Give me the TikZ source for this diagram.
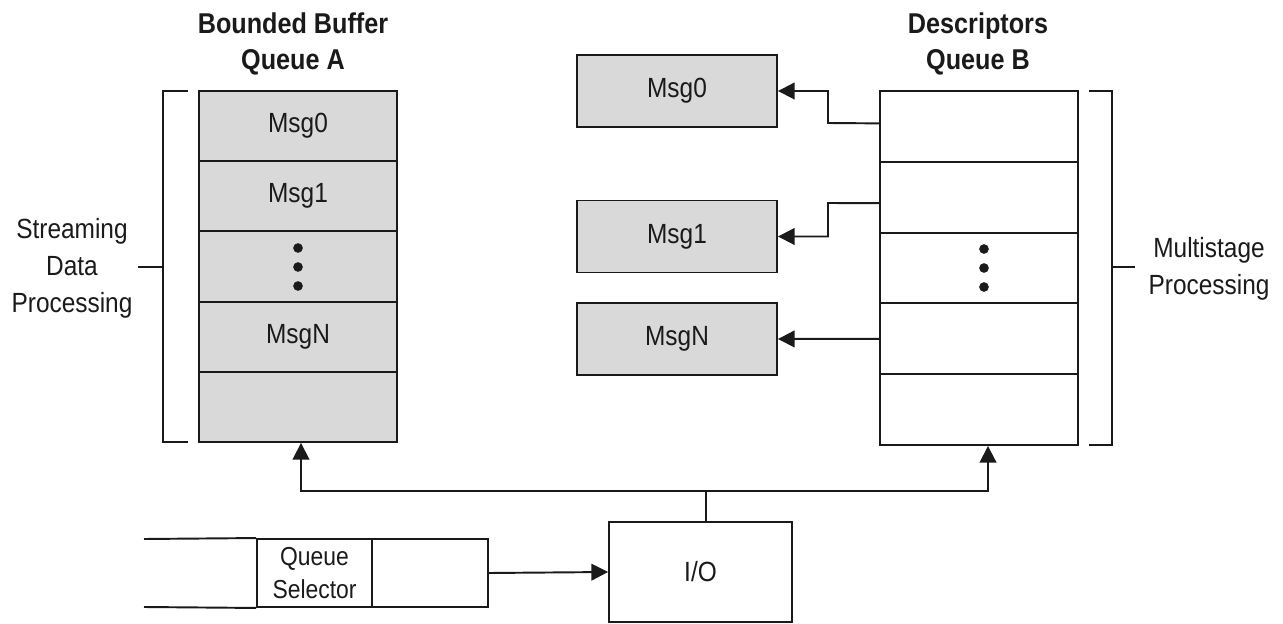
\documentclass[tikz,border=0pt]{standalone}
\usepackage{fontspec}
\setmainfont{Liberation Sans}[FakeStretch=0.88]
\usetikzlibrary{arrows.meta,calc}
\definecolor{cellgray}{HTML}{D9D9D9}
\definecolor{ink}{HTML}{1A1A1A}
\begin{document}
\begin{tikzpicture}[x=0.02cm,y=-0.02cm,
  line width=1.1pt, draw=ink, text=ink,
  every node/.style={font=\fontsize{15.8}{21}\selectfont, inner sep=0pt},
  cellA/.style={draw, fill=cellgray, minimum width=3.96cm, minimum height=1.404cm},
  cellB/.style={draw, fill=white, minimum width=3.96cm, minimum height=1.416cm},
  msgbox/.style={draw, fill=cellgray, minimum width=4cm, minimum height=1.44cm},
  plainbox/.style={draw, fill=white},
  title/.style={align=center, font=\fontsize{16.3}{20}\selectfont\bfseries},
  label/.style={align=center},
  arr/.style={-{Triangle[length=9.5pt,width=9.5pt]}},
  dotmark/.style={fill=ink, draw=none, circle, minimum size=5.5pt}
]
\useasboundingbox (0,0) rectangle (1283,624);

% Queue A
\node[cellA] (A0) at (298,126.1) {Msg0};
\node[cellA] (A1) at (298,196.3) {Msg1};
\node[cellA] (A2) at (298,266.5) {};
\node[cellA] (A3) at (298,336.7) {MsgN};
\node[cellA] (A4) at (298,406.9) {};
\node[dotmark] (ad1) at (298,248) {};
\node[dotmark] (ad2) at (298,267) {};
\node[dotmark] (ad3) at (298,286) {};

\node[title] (tA) at (293,44) {Bounded Buffer\\Queue A};

% left bracket
\draw (188,91) -- (163,91) -- (163,442) -- (188,442);
\draw (138,267) -- (163,267);
\node[label] (sdp) at (72,268) {Streaming\\Data\\Processing};

% Queue B
\node[cellB] (B0) at (979,126.4) {};
\node[cellB] (B1) at (979,197.2) {};
\node[cellB] (B2) at (979,268) {};
\node[cellB] (B3) at (979,338.8) {};
\node[cellB] (B4) at (979,409.6) {};
\node[dotmark] (bd1) at (984,249) {};
\node[dotmark] (bd2) at (984,268) {};
\node[dotmark] (bd3) at (984,287) {};

\node[title] (tB) at (978,44) {Descriptors\\Queue B};

% right bracket
\draw (1089,91) -- (1112,91) -- (1112,445) -- (1089,445);
\draw (1112,267) -- (1135,267);
\node[label] (mp) at (1209,269) {Multistage\\Processing};

% Message boxes
\node[msgbox] (M0) at (677,91) {Msg0};
\node[msgbox] (M1) at (677,236.5) {Msg1};
\node[msgbox] (MN) at (677,339) {MsgN};

\draw[arr] ($(B0.west)+(0,-3)$) -- (828,123) |- (M0.east);
\draw[arr] ($(B1.west)+(0,6)$) -- (828,203) |- (M1.east);
\draw[arr] (B3.west) -- (MN.east);

% I/O and selector
\node[plainbox, minimum width=3.66cm, minimum height=2cm] (IO) at (700.5,572) {I/O};
\node[plainbox, minimum width=2.3cm, minimum height=1.36cm, align=center, font=\fontsize{14.8}{19}\selectfont] (QS) at (314.5,573) {Queue\\Selector};
\node[plainbox, minimum width=2.32cm, minimum height=1.36cm] (QR) at (430,573) {};
\draw (QS.north west) -- (144,539);
\draw (QS.south west) -- (144,607);
\draw[arr] (QR.east) -- (IO.west);

\coordinate (junc) at (706,491);
\draw (IO.north -| junc) -- (junc);
\draw[arr] (junc) -| ($(A4.south)+(3,0)$);
\draw[arr] (junc) -| ($(B4.south)+(9,0)$);
\end{tikzpicture}
\end{document}
